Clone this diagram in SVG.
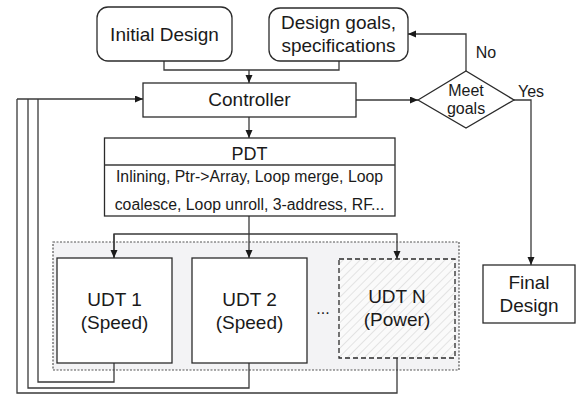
<svg xmlns="http://www.w3.org/2000/svg" width="576" height="395" viewBox="0 0 576 395">
<style>
.box{fill:#fff;stroke:#2b2b2b;stroke-width:1.3}
.ln{fill:none;stroke:#3a3a3a;stroke-width:1.3}
.t{font-family:"Liberation Sans",Arial,sans-serif;fill:#1a1a1a;text-anchor:middle}
.big{font-size:19px}
.mid{font-size:16px}
</style>
<defs>
<marker id="arr" markerUnits="userSpaceOnUse" markerWidth="9" markerHeight="8" refX="8" refY="3.5" orient="auto">
<path d="M0,0 L8,3.5 L0,7 z" fill="#1a1a1a"/>
</marker>
<pattern id="hatch" patternUnits="userSpaceOnUse" width="6" height="6" patternTransform="rotate(45)">
<rect width="6" height="6" fill="#fafafa"/>
<line x1="0" y1="0" x2="0" y2="6" stroke="#dcdcdc" stroke-width="1.5"/>
</pattern>
</defs>

<g id="udt-group">
<rect x="53" y="242" width="406" height="128" fill="#f3f3f5" stroke="#555" stroke-width="1.2" stroke-dasharray="2,1.5"/>
</g>

<g id="connectors">
<polyline class="ln" points="164,61 164,70 339,70 339,61"/>
<line class="ln" x1="249" y1="70" x2="249" y2="83" marker-end="url(#arr)"/>
<line class="ln" x1="356" y1="100" x2="418" y2="100" marker-end="url(#arr)"/>
<polyline class="ln" points="466,71 466,34 408,34" marker-end="url(#arr)"/>
<polyline class="ln" points="514,100 531,100 531,265" marker-end="url(#arr)"/>
<line class="ln" x1="249" y1="117" x2="249" y2="138" marker-end="url(#arr)"/>
<line class="ln" x1="249" y1="216" x2="249" y2="258" marker-end="url(#arr)"/>
<polyline class="ln" points="114,258 114,234 397,234 397,259" marker-end="url(#arr)"/>
<line class="ln" x1="114" y1="234" x2="114" y2="258" marker-end="url(#arr)"/>
<polyline class="ln" points="114,363 114,382 38,382 38,99"/>
<polyline class="ln" points="249,363 249,388 28,388 28,99"/>
<polyline class="ln" points="397,358 397,393 17,393 17,99"/>
<line class="ln" x1="17" y1="99" x2="143" y2="99" marker-end="url(#arr)"/>
<text class="t mid" x="486" y="58">No</text>
<text class="t mid" x="531" y="97">Yes</text>
</g>

<g id="initial-design">
<rect class="box" x="97" y="7" width="135" height="54" rx="11"/>
<text class="t big" x="164.5" y="41">Initial Design</text>
</g>

<g id="design-goals">
<rect class="box" x="269" y="8" width="139" height="53" rx="11"/>
<text class="t big" x="338.5" y="29">Design goals,</text>
<text class="t big" x="338.5" y="52">specifications</text>
</g>

<g id="controller">
<rect class="box" x="143" y="83" width="213" height="34"/>
<text class="t big" x="249.5" y="106">Controller</text>
</g>

<g id="meet-goals">
<polygon class="box" points="418,100 466,71 514,100 466,128"/>
<text class="t mid" x="466" y="96">Meet</text>
<text class="t mid" x="466" y="114">goals</text>
</g>

<g id="pdt">
<rect class="box" x="104.5" y="138" width="290.5" height="78"/>
<line class="ln" x1="104.5" y1="165" x2="395" y2="165"/>
<text class="t" x="249.5" y="160" font-size="18">PDT</text>
<text class="t" x="249.5" y="182" font-size="15.8">Inlining, Ptr-&gt;Array, Loop merge, Loop</text>
<text class="t" x="249.5" y="210" font-size="15.8">coalesce, Loop unroll, 3-address, RF...</text>
</g>

<g id="udt1">
<rect class="box" x="57" y="258" width="115" height="105"/>
<text class="t big" x="114.5" y="306">UDT 1</text>
<text class="t big" x="114.5" y="329">(Speed)</text>
</g>

<g id="udt2">
<rect class="box" x="192" y="258" width="115" height="105"/>
<text class="t big" x="249.5" y="306">UDT 2</text>
<text class="t big" x="249.5" y="329">(Speed)</text>
</g>

<g id="dots">
<text class="t mid" x="323" y="314">...</text>
</g>

<g id="udtn">
<rect x="339" y="259" width="116" height="99" fill="url(#hatch)" stroke="#2b2b2b" stroke-width="1.3" stroke-dasharray="5,3"/>
<text class="t big" x="397" y="303">UDT N</text>
<text class="t big" x="397" y="326">(Power)</text>
</g>

<g id="final-design">
<rect class="box" x="483" y="265" width="92" height="58"/>
<text class="t big" x="529" y="289">Final</text>
<text class="t big" x="529" y="312">Design</text>
</g>
</svg>
